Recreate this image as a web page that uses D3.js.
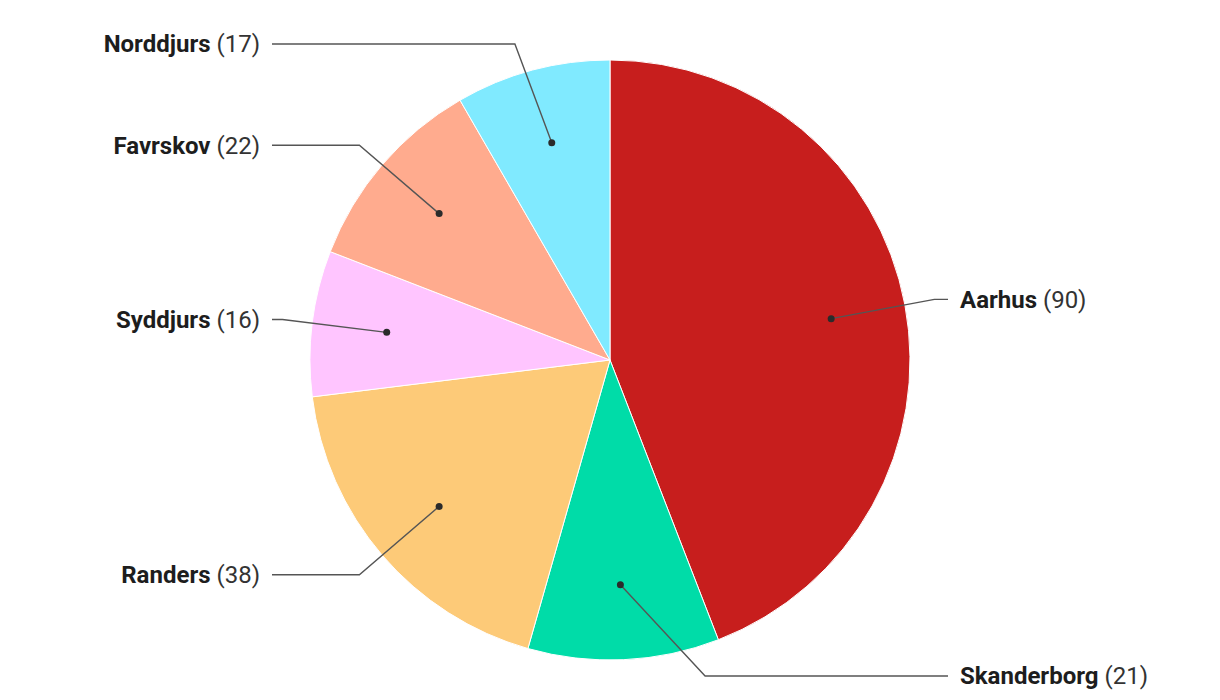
<!DOCTYPE html>
<html>
<head>
<meta charset="utf-8">
<script src="https://cdn.jsdelivr.net/npm/d3@7"></script>
<style>
  html, body { margin: 0; padding: 0; background: #fff; }
  svg { display: block; }
  text { font-family: Roboto, "Noto Sans", sans-serif; }
</style>
</head>
<body>
<svg id="chart" width="1220" height="700"></svg>
<script>
const categories = ["Aarhus", "Skanderborg", "Randers", "Syddjurs", "Favrskov", "Norddjurs"];
const values = [90, 21, 38, 16, 22, 17];
const colors = ["#c71e1d", "#00dca8", "#fdca78", "#ffc5ff", "#ffab8e", "#80eaff"];

const W = 1220, H = 700;
const cx = 610, cy = 360, r = 300;
const labelR = r * 1.1;
const dotR = r * 0.75;

const data = categories.map((c, i) => ({ name: c, value: values[i], color: colors[i] }));

const svg = d3.select("#chart");
const g = svg.append("g").attr("transform", `translate(${cx},${cy})`);

const pie = d3.pie().sort(null).value(d => d.value);
const arcs = pie(data);
const arc = d3.arc().innerRadius(0).outerRadius(r);

g.selectAll("path.slice")
  .data(arcs)
  .enter().append("path")
  .attr("class", "slice")
  .attr("d", arc)
  .attr("fill", d => d.data.color)
  .attr("stroke", "#fff")
  .attr("stroke-width", 1);

// label layout
const minY = 44 - cy, maxY = 676 - cy;
arcs.forEach(a => {
  const mid = (a.startAngle + a.endAngle) / 2;
  a.mid = mid;
  a.side = Math.sin(mid) >= 0 ? 1 : -1;
  a.dx = Math.sin(mid) * dotR;
  a.dy = -Math.cos(mid) * dotR;
  let ly = -Math.cos(mid) * labelR;
  ly = Math.max(minY, Math.min(maxY, ly));
  a.ly = ly;
  a.bx = a.side * Math.sqrt(Math.max(0, labelR * labelR - ly * ly));
  a.ex = a.side * (labelR + 8);
  a.tx = a.side * (labelR + 20);
});

const lines = g.selectAll("g.lbl").data(arcs).enter().append("g").attr("class", "lbl");

lines.append("path")
  .attr("d", d => d3.line()([[d.dx, d.dy], [d.bx, d.ly], [d.ex, d.ly]]))
  .attr("fill", "none")
  .attr("stroke", "#555")
  .attr("stroke-width", 1.4);

lines.append("circle")
  .attr("cx", d => d.dx)
  .attr("cy", d => d.dy)
  .attr("r", 3.5)
  .attr("fill", "#2b2b2b");

const txt = lines.append("text")
  .attr("x", d => d.tx)
  .attr("y", d => d.ly)
  .attr("dy", "0.35em")
  .attr("text-anchor", d => d.side > 0 ? "start" : "end")
  .attr("font-size", 24)
  .attr("fill", "#1d1d1d");
txt.append("tspan").attr("font-weight", "bold").text(d => d.data.name);
txt.append("tspan").attr("font-weight", "normal").attr("fill", "#333").text(d => " (" + d.data.value + ")");
</script>
</body>
</html>
